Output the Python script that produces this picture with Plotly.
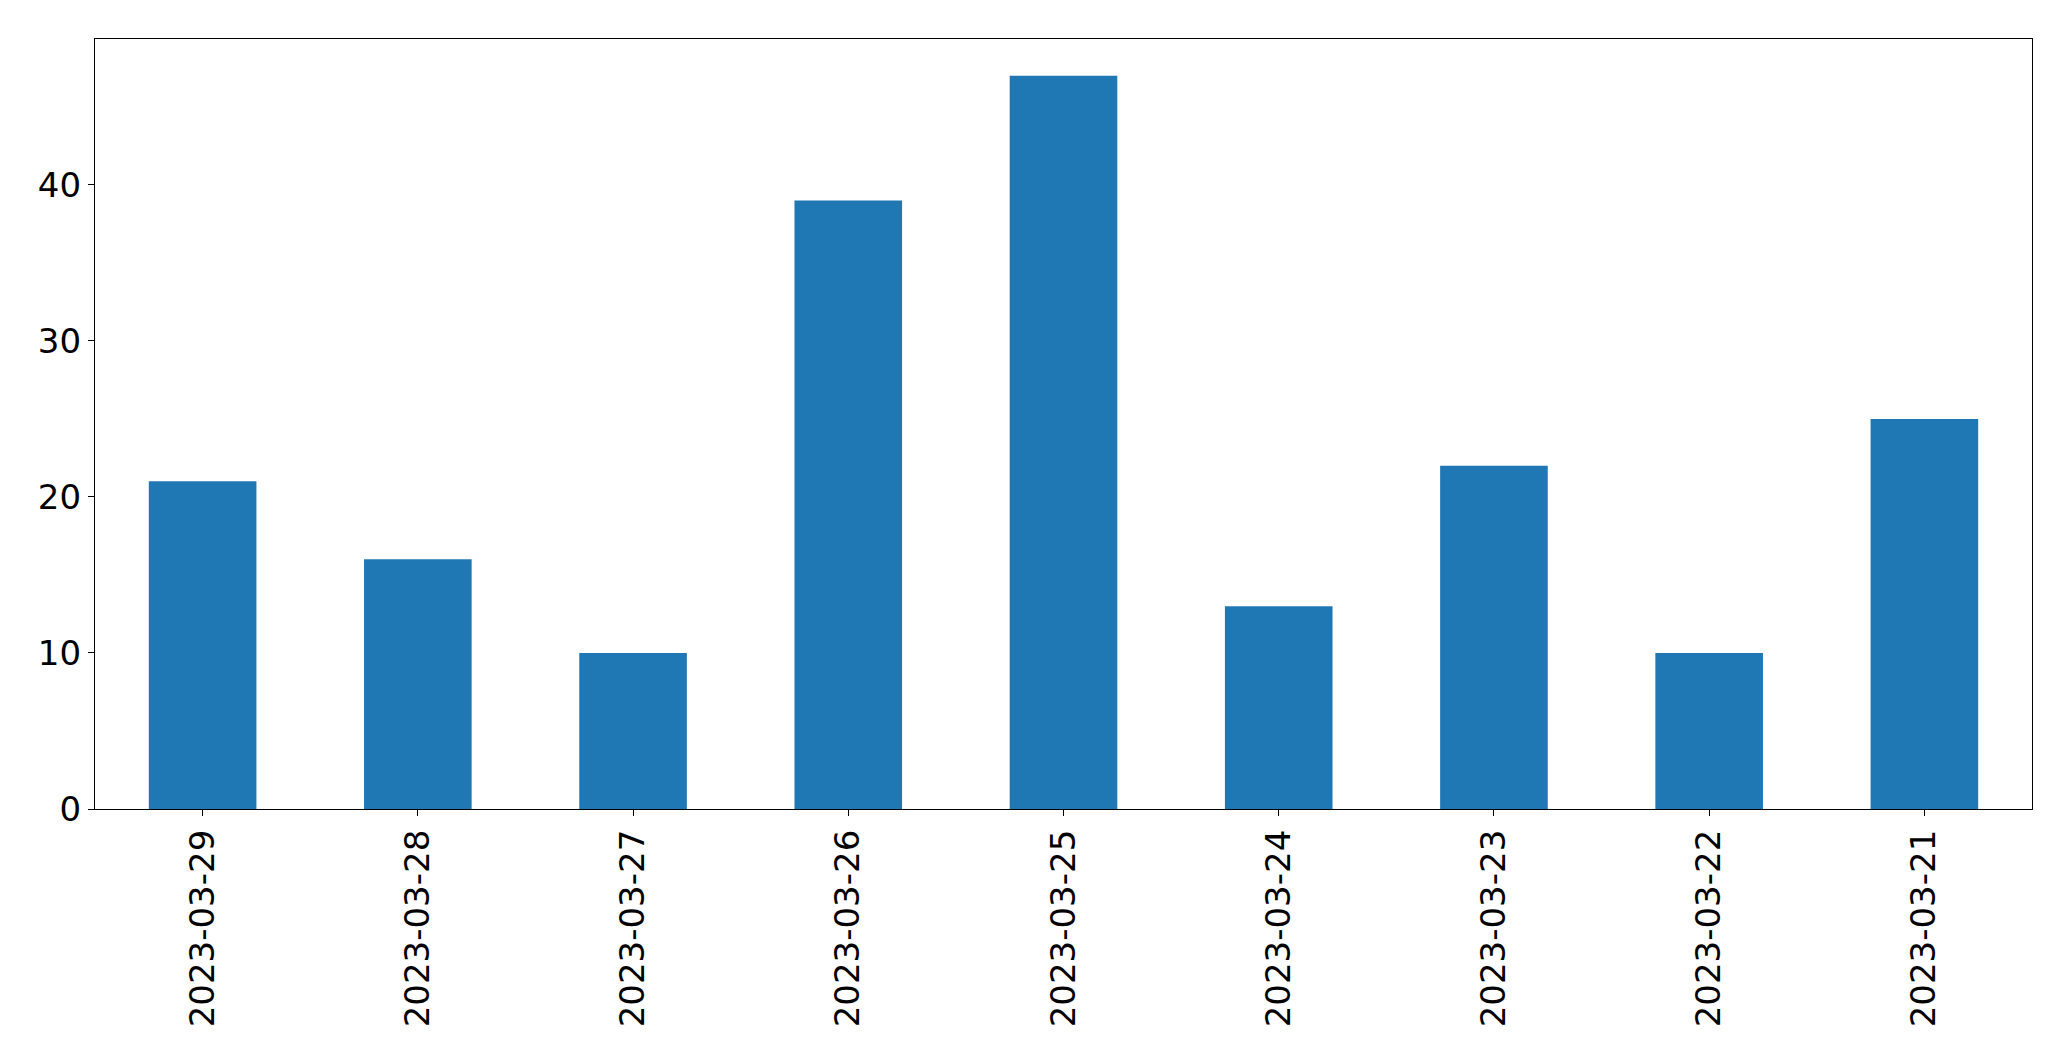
import plotly.graph_objects as go

categories = ["2023-03-29", "2023-03-28", "2023-03-27", "2023-03-26", "2023-03-25",
              "2023-03-24", "2023-03-23", "2023-03-22", "2023-03-21"]
values = [21, 16, 10, 39, 47, 13, 22, 10, 25]

fig = go.Figure()
fig.add_trace(go.Bar(x=categories, y=values, marker=dict(color="#1f77b4", line=dict(width=0)),
                     width=0.5))

fig.update_layout(
    width=2055, height=1045,
    margin=dict(l=87, r=31, t=31, b=244),
    paper_bgcolor="white", plot_bgcolor="white",
    font=dict(family="DejaVu Sans", size=34, color="black"),
    showlegend=False,
    bargap=0.5,
)
fig.update_xaxes(
    type="category", range=[-0.5, 8.5],
    showline=True, linecolor="black", linewidth=1.3, mirror=True,
    ticks="outside", ticklen=6, tickcolor="black", tickwidth=1.3,
    tickangle=-90, showgrid=False, zeroline=False,
    tickfont=dict(family="DejaVu Sans", size=34, color="black"),
)
fig.update_yaxes(
    range=[0, 49.35], tickvals=[0, 10, 20, 30, 40],
    showline=True, linecolor="black", linewidth=1.3, mirror=True,
    ticks="outside", ticklen=6, tickcolor="black", tickwidth=1.3,
    showgrid=False, zeroline=False,
    tickfont=dict(family="DejaVu Sans", size=34, color="black"),
)

fig.write_html("out.html")
